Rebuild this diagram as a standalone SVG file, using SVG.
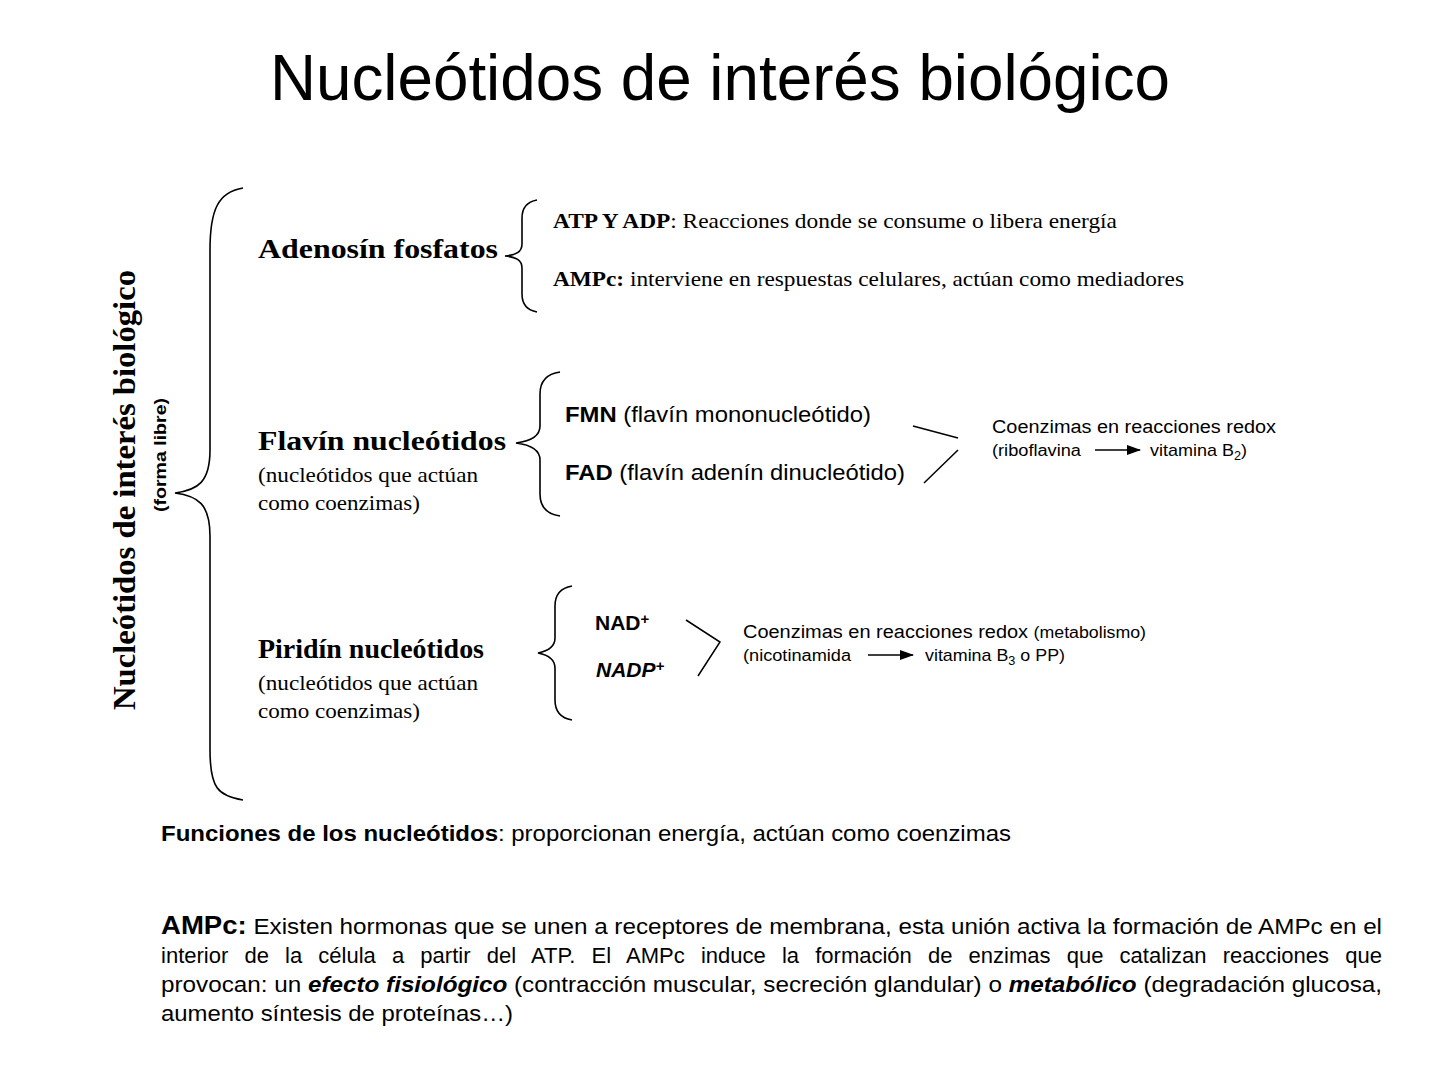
<svg xmlns="http://www.w3.org/2000/svg" width="1440" height="1080" viewBox="0 0 1440 1080">
<defs>
<marker id="ah" markerWidth="14" markerHeight="10" refX="13" refY="5" orient="auto" markerUnits="userSpaceOnUse">
<path d="M0,0 L14,5 L0,10 z" fill="#000"/>
</marker>
<style>
.sans{font-family:"Liberation Sans",Arial,sans-serif;fill:#000}
.serif{font-family:"Liberation Serif","Times New Roman",serif;fill:#000}
.b{font-weight:bold}
.br{fill:none;stroke:#000;stroke-width:1.6}
.ln{fill:none;stroke:#000;stroke-width:1.5}
</style>
</defs>
<rect width="1440" height="1080" fill="#fff"/>

<g id="title">
<text class="sans" x="270" y="100" font-size="64" textLength="900" lengthAdjust="spacingAndGlyphs">Nucleótidos de interés biológico</text>
</g>

<g id="root">
<text class="serif b" transform="translate(135,710) rotate(-90)" font-size="32" textLength="440" lengthAdjust="spacingAndGlyphs">Nucleótidos de interés biológico</text>
<text class="sans b" transform="translate(166,512) rotate(-90)" font-size="16" textLength="114" lengthAdjust="spacingAndGlyphs">(forma libre)</text>
</g>

<g id="connectors">
<path class="br" d="M243,188 C218,192 210,210 210,250 L210,450 C210,482 198,490 175,493 C198,496 210,504 210,536 L210,750 C210,788 218,796 243,800"/>
<path class="br" d="M537,200 C526,202 522,208 522,218 L522,244 C522,252 516,255 505,256 C516,257 522,260 522,268 L522,294 C522,304 526,310 537,312"/>
<path class="br" d="M560,372 C546,374 540,382 540,394 L540,426 C540,436 532,441 516,443 C532,445 540,450 540,460 L540,494 C540,506 546,514 560,516"/>
<path class="br" d="M572,586 C560,588 555,596 555,606 L555,638 C555,647 548,651 538,653 C548,655 555,659 555,668 L555,700 C555,710 560,718 572,720"/>
<path class="ln" d="M913,426 L958,438 M924,483 L958,450"/>
<path class="ln" d="M686,620 L720,642 L698,676"/>
<path class="ln" d="M1095,450 L1140,450" marker-end="url(#ah)"/>
<path class="ln" d="M868,655 L913,655" marker-end="url(#ah)"/>
</g>

<g id="adenosin">
<text class="serif b" x="258" y="258" font-size="28" textLength="240" lengthAdjust="spacingAndGlyphs">Adenosín fosfatos</text>
</g>
<g id="atp">
<text class="serif" x="553" y="228" font-size="21" textLength="564" lengthAdjust="spacingAndGlyphs"><tspan class="b">ATP Y ADP</tspan>: Reacciones donde se consume o libera energía</text>
</g>
<g id="ampc">
<text class="serif" x="553" y="286" font-size="21" textLength="631" lengthAdjust="spacingAndGlyphs"><tspan class="b">AMPc:</tspan>  interviene en respuestas celulares, actúan como mediadores</text>
</g>

<g id="flavin">
<text class="serif b" x="258" y="450" font-size="28" textLength="248" lengthAdjust="spacingAndGlyphs">Flavín nucleótidos</text>
<text class="serif" x="258" y="482" font-size="21" textLength="220" lengthAdjust="spacingAndGlyphs">(nucleótidos que actúan</text>
<text class="serif" x="258" y="510" font-size="21" textLength="162" lengthAdjust="spacingAndGlyphs">como coenzimas)</text>
</g>
<g id="fmn">
<text class="sans" x="565" y="422" font-size="22" textLength="306" lengthAdjust="spacingAndGlyphs"><tspan class="b">FMN</tspan> (flavín mononucleótido)</text>
</g>
<g id="fad">
<text class="sans" x="565" y="480" font-size="22" textLength="340" lengthAdjust="spacingAndGlyphs"><tspan class="b">FAD</tspan> (flavín adenín dinucleótido)</text>
</g>
<g id="redox1">
<text class="sans" x="992" y="433" font-size="18" textLength="284" lengthAdjust="spacingAndGlyphs">Coenzimas en reacciones redox</text>
<text class="sans" x="992" y="456" font-size="16" textLength="89" lengthAdjust="spacingAndGlyphs">(riboflavina</text>
<text class="sans" x="1150" y="456" font-size="17" textLength="97" lengthAdjust="spacingAndGlyphs">vitamina B<tspan font-size="12" dy="4">2</tspan><tspan dy="-4">)</tspan></text>
</g>

<g id="piridin">
<text class="serif b" x="258" y="658" font-size="28" textLength="226" lengthAdjust="spacingAndGlyphs">Piridín nucleótidos</text>
<text class="serif" x="258" y="690" font-size="21" textLength="220" lengthAdjust="spacingAndGlyphs">(nucleótidos que actúan</text>
<text class="serif" x="258" y="718" font-size="21" textLength="162" lengthAdjust="spacingAndGlyphs">como coenzimas)</text>
</g>
<g id="nad">
<text class="sans b" x="595" y="630" font-size="21">NAD<tspan font-size="15" dy="-6">+</tspan></text>
</g>
<g id="nadp">
<text class="sans b" x="596" y="677" font-size="21" font-style="italic">NADP<tspan font-size="15" dy="-6">+</tspan></text>
</g>
<g id="redox2">
<text class="sans" x="743" y="638" font-size="18" textLength="403" lengthAdjust="spacingAndGlyphs">Coenzimas en reacciones redox <tspan font-size="16">(metabolismo)</tspan></text>
<text class="sans" x="743" y="661" font-size="16" textLength="108" lengthAdjust="spacingAndGlyphs">(nicotinamida</text>
<text class="sans" x="925" y="661" font-size="17" textLength="140" lengthAdjust="spacingAndGlyphs">vitamina B<tspan font-size="12" dy="4">3</tspan><tspan dy="-4"> o PP)</tspan></text>
</g>

<g id="funciones">
<text class="sans" x="161" y="841" font-size="22" textLength="850" lengthAdjust="spacingAndGlyphs"><tspan class="b">Funciones de los nucleótidos</tspan>: proporcionan energía, actúan como coenzimas</text>
</g>

<g id="parrafo">
<text class="sans" x="161" y="934" font-size="22" textLength="1221" lengthAdjust="spacingAndGlyphs"><tspan class="b" font-size="25">AMPc:</tspan> Existen hormonas que se unen a receptores de membrana, esta unión activa la formación de AMPc en el</text>
<text class="sans" x="161" y="963" font-size="22" textLength="1221" lengthAdjust="spacingAndGlyphs" word-spacing="10">interior de la célula a partir del ATP. El AMPc induce la formación de enzimas que catalizan reacciones que</text>
<text class="sans" x="161" y="992" font-size="22" textLength="1221" lengthAdjust="spacingAndGlyphs">provocan: un <tspan class="b" font-style="italic">efecto fisiológico</tspan> (contracción muscular, secreción glandular) o <tspan class="b" font-style="italic">metabólico</tspan> (degradación glucosa,</text>
<text class="sans" x="161" y="1021" font-size="22" textLength="352" lengthAdjust="spacingAndGlyphs">aumento síntesis de proteínas…)</text>
</g>
</svg>
